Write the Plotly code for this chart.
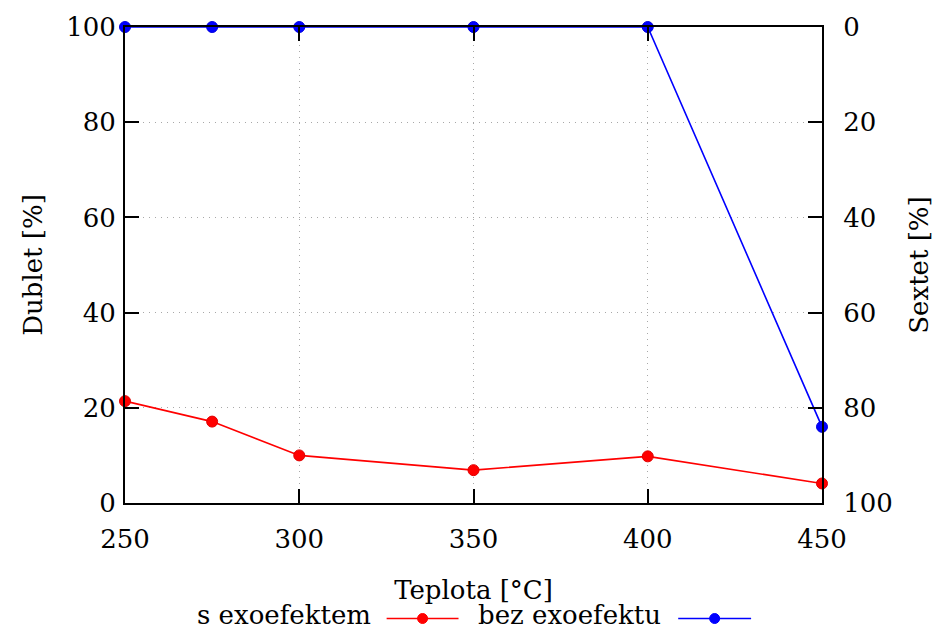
import plotly.graph_objects as go

teplota = [250, 275, 300, 350, 400, 450]
s_exoefektem = [21.4, 17.1, 10.0, 6.9, 9.8, 4.1]
bez_exoefektu = [100, 100, 100, 100, 100, 16.0]

x_ticks = [250, 300, 350, 400, 450]
y_ticks = [0, 20, 40, 60, 80, 100]

FONT = "DejaVu Serif"
FS = 26

fig = go.Figure()
fig.add_trace(go.Scatter(x=teplota, y=s_exoefektem, mode="lines+markers", name="s exoefektem",
                         line=dict(color="#ff0000", width=1.6),
                         marker=dict(color="#ff0000", size=11, line=dict(color="#e00000", width=1)),
                         cliponaxis=False))
fig.add_trace(go.Scatter(x=teplota, y=bez_exoefektu, mode="lines+markers", name="bez exoefektu",
                         line=dict(color="#0000ff", width=1.6),
                         marker=dict(color="#0000ff", size=11, line=dict(color="#0000e0", width=1)),
                         cliponaxis=False))
# invisible trace to activate y2
fig.add_trace(go.Scatter(x=[teplota[0]], y=[0], yaxis="y2", mode="markers",
                         marker=dict(opacity=0), showlegend=False, hoverinfo="skip"))

axis_common = dict(showline=True, linecolor="black", linewidth=2, ticks="inside",
                   ticklen=14, tickwidth=2, tickcolor="black", zeroline=False,
                   tickfont=dict(family=FONT, size=FS, color="black"))

GRID = dict(showgrid=True, gridcolor="#a8a8a8", griddash="1px,5px", gridwidth=1.2)

fig.update_layout(
    width=941, height=631,
    margin=dict(l=125, r=118, t=25, b=128),
    paper_bgcolor="white", plot_bgcolor="white",
    showlegend=False,
    font=dict(family=FONT, size=FS, color="black"),
    xaxis=dict(range=[250, 450], tickvals=x_ticks, mirror="ticks",
               ticklabelstandoff=12,
               title=dict(text="Teplota [°C]", font=dict(family=FONT, size=FS), standoff=28),
               **GRID, **axis_common),
    yaxis=dict(range=[0, 100], tickvals=y_ticks,
               ticklabelstandoff=2,
               title=dict(text="Dublet [%]", font=dict(family=FONT, size=FS), standoff=16),
               **GRID, **axis_common),
    yaxis2=dict(range=[100, 0], tickvals=y_ticks, overlaying="y", side="right",
                showgrid=False, ticklabelstandoff=14,
                title=dict(text="Sextet [%]", font=dict(family=FONT, size=FS), standoff=18),
                **axis_common),
)

# custom legend (gnuplot style: text then sample)
W, H = 698.0, 478.0
def px(xp):
    return (xp - 125) / W
ly = (503 - 619) / H
ty = (503 - 615) / H
legend_items = [("s exoefektem", "#ff0000", 372, 387, 459),
                ("bez exoefektu", "#0000ff", 663, 679, 752)]
for label, col, tx, l0, l1 in legend_items:
    fig.add_annotation(text=label, xref="paper", yref="paper", x=px(tx), y=ty,
                       xanchor="right", yanchor="middle", showarrow=False, borderpad=0,
                       font=dict(family=FONT, size=FS, color="black"))
    fig.add_shape(type="line", xref="paper", yref="paper", x0=px(l0), x1=px(l1),
                  y0=ly, y1=ly, line=dict(color=col, width=1.6))
    fig.add_shape(type="circle", xref="paper", yref="paper", xsizemode="pixel", ysizemode="pixel",
                  xanchor=px((l0 + l1) / 2), yanchor=ly, x0=-5, x1=5, y0=-5, y1=5,
                  fillcolor=col, line=dict(color=col, width=1))

fig.write_html("out.html")
